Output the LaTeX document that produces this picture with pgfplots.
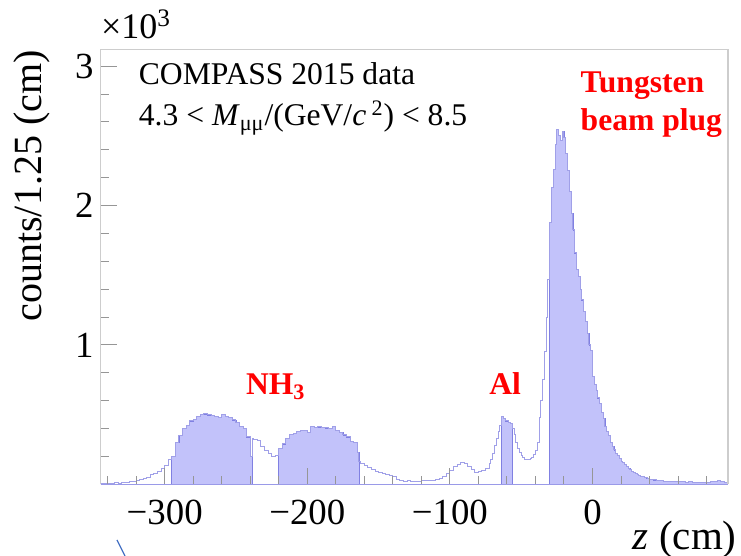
\documentclass[border=0pt]{standalone}
\usepackage{fontspec}
\setmainfont{Liberation Serif}
\usepackage{pgfplots}
\usepackage{pgfplotstable}
\pgfplotsset{compat=1.18}
\definecolor{histline}{RGB}{160,160,232}
\definecolor{histfill}{RGB}{194,194,250}
\definecolor{fillline}{RGB}{128,128,226}
\definecolor{framegray}{RGB}{205,205,205}
\definecolor{tickgray}{RGB}{150,150,150}
\definecolor{stray}{RGB}{70,114,196}

\pgfplotstableread{
z c
-345 5
-342.5 3
-340 8
-337.5 6
-335 10
-332.5 9
-330 14
-327.5 12
-325 18
-322.5 22
-320 27
-317.5 34
-315 42
-312.5 50
-310 68
-307.5 80
-305 95
-302.5 112
-300 135
-297.5 175
-295 200
-292.5 300
-290 350
-287.5 400
-285 425
-282.5 455
-280 465
-277.5 490
-275 500
-272.5 505
-270 498
-267.5 492
-265 485
-262.5 478
-260 502
-257.5 488
-255 478
-252.5 462
-250 445
-247.5 415
-245 400
-242.5 340
-240 200
-238.75 330
-237.5 325
-235 315
-232.5 270
-230 245
-227.5 225
-225 200
-222.5 210
-220 260
-217.5 290
-215 330
-212.5 358
-210 368
-207.5 378
-205 390
-202.5 385
-200 370
-197.5 415
-195 410
-192.5 412
-190 410
-187.5 405
-185 402
-182.5 414
-180 385
-177.5 370
-175 355
-172.5 340
-170 310
-167.5 300
-165 230
-163.75 165
-162.5 150
-160 135
-157.5 120
-155 105
-152.5 95
-150 88
-147.5 80
-145 74
-142.5 65
-140 55
-137.5 38
-135 28
-132.5 22
-130 25
-127.5 24
-125 22
-122.5 24
-120 25
-117.5 28
-115 27
-112.5 30
-110 35
-107.5 42
-105 55
-102.5 75
-100 100
-97.5 125
-95 140
-92.5 155
-90 150
-87.5 125
-85 105
-82.5 88
-80 90
-77.5 100
-75 115
-72.5 150
-71.25 175
-70 220
-68.75 280
-67.5 330
-66.25 380
-65 420
-63.75 485
-62.5 470
-61.25 455
-60 460
-58.75 445
-57.5 440
-56.25 400
-55 360
-53.75 300
-52.5 260
-51.25 230
-50 210
-48.75 195
-47.5 182
-46.25 176
-45 178
-43.75 185
-42.5 195
-41.25 215
-40 240
-38.75 300
-37.5 480
-36.25 600
-35 750
-33.75 950
-32.5 1200
-31.25 1470
-30 1880
-28.75 2130
-27.5 2260
-26.25 2440
-25 2545
-23.75 2500
-22.5 2470
-21.25 2530
-20 2490
-18.75 2375
-17.5 2255
-16.25 2100
-15 1945
-13.75 1825
-12.5 1660
-11.25 1540
-10 1490
-8.75 1400
-7.5 1323
-6.25 1240
-5 1167
-3.75 1084
-2.5 1000
-1.25 964
0 773
1.25 720
2.5 677
3.75 620
5 582
6.25 517
7.5 470
8.75 414
10 380
11.25 350
12.5 300
13.75 270
15 247
16.25 225
17.5 205
18.75 185
20 165
21.25 155
22.5 140
23.75 128
25 115
26.25 105
27.5 95
28.75 88
30 80
31.25 72
32.5 66
33.75 60
35 55
36.25 50
37.5 46
38.75 42
40 38
41.25 35
42.5 32
45 29
47.5 27
50 24
52.5 22
55 20
57.5 19
60 18
62.5 20
65 17
67.5 19
70 16
72.5 17
75 15
77.5 16
80 17
82.5 19
85 18
87.5 27
90 20
92.5 12
95 12
}\outline

\pgfplotstableread{
z c
-295 200
-292.5 300
-290 350
-287.5 400
-285 425
-282.5 455
-280 465
-277.5 490
-275 500
-272.5 505
-270 498
-267.5 492
-265 485
-262.5 478
-260 502
-257.5 488
-255 478
-252.5 462
-250 445
-247.5 415
-245 400
-242.5 340
-240 200
-238.75 200
}\cellA

\pgfplotstableread{
z c
-220 260
-217.5 290
-215 330
-212.5 358
-210 368
-207.5 378
-205 390
-202.5 385
-200 370
-197.5 415
-195 410
-192.5 412
-190 410
-187.5 405
-185 402
-182.5 414
-180 385
-177.5 370
-175 355
-172.5 340
-170 310
-167.5 300
-165 230
-163.75 230
}\cellB

\pgfplotstableread{
z c
-63.75 485
-62.5 470
-61.25 455
-60 460
-58.75 445
-57.5 440
-56.25 440
}\alu

\pgfplotstableread{
z c
-30 1880
-28.75 2130
-27.5 2260
-26.25 2440
-25 2545
-23.75 2500
-22.5 2470
-21.25 2530
-20 2490
-18.75 2375
-17.5 2255
-16.25 2100
-15 1945
-13.75 1825
-12.5 1660
-11.25 1540
-10 1490
-8.75 1400
-7.5 1323
-6.25 1240
-5 1167
-3.75 1084
-2.5 1000
-1.25 964
0 773
1.25 720
2.5 677
3.75 620
5 582
6.25 517
7.5 470
8.75 414
10 380
11.25 350
12.5 300
13.75 270
15 247
16.25 225
17.5 205
18.75 185
20 165
21.25 155
22.5 140
23.75 128
25 115
26.25 105
27.5 95
28.75 88
30 80
31.25 72
32.5 66
33.75 60
35 55
36.25 50
37.5 46
38.75 42
40 38
41.25 35
42.5 32
45 29
47.5 27
50 24
52.5 22
55 20
57.5 19
60 18
62.5 20
65 17
67.5 19
70 16
72.5 17
75 15
77.5 16
80 17
82.5 19
85 18
87.5 27
90 20
92.5 12
95 12
}\plug

\begin{document}
\begin{tikzpicture}
\useasboundingbox (0,0) rectangle (370.5pt,278pt);
\begin{axis}[
  at={(50.25pt,35.8pt)}, anchor=south west,
  scale only axis, width=313.75pt, height=217.4pt,
  xmin=-345, xmax=95, ymin=0, ymax=3119,
  enlargelimits=false,
  axis on top,
  axis line style={draw=none},
  tick pos=left,
  tick align=inside,
  xtick={-300,-200,-100,0},
  xticklabels={−300,−200,−100,0},
  ytick={1000,2000,3000},
  yticklabels={1,2,3},
  minor xtick={-340,-320,-280,-260,-240,-220,-180,-160,-140,-120,-80,-60,-40,-20,20,40,60,80},
  minor ytick={200,400,600,800,1200,1400,1600,1800,2200,2400,2600,2800},
  major tick length=8pt, minor tick length=4pt,
  tick style={draw=tickgray, line width=0.5pt},
  ticklabel style={font=\fontsize{18.4}{20}\selectfont},
  xticklabel style={yshift=-4.5pt},
  scaled ticks=false,
]
\addplot[const plot, fill=histfill, draw=fillline, line width=0.4pt] table[x=z,y=c] {\cellA} \closedcycle;
\addplot[const plot, fill=histfill, draw=fillline, line width=0.4pt] table[x=z,y=c] {\cellB} \closedcycle;
\addplot[const plot, fill=histfill, draw=fillline, line width=0.4pt] table[x=z,y=c] {\alu} \closedcycle;
\addplot[const plot, fill=histfill, draw=fillline, line width=0.4pt] table[x=z,y=c] {\plug} \closedcycle;
\addplot[const plot, draw=histline, line width=0.5pt] table[x=z,y=c] {\outline};
\end{axis}
% frame
\draw[framegray, line width=0.6pt] (50.25pt,35.8pt) -- (50.25pt,253.2pt) -- (364pt,253.2pt) -- (364pt,35.8pt);
\draw[fillline!80, line width=0.6pt] (50.25pt,35.8pt) -- (364pt,35.8pt);
% texts
\node[anchor=base west, inner sep=0pt, font=\fontsize{15.8}{18}\selectfont] at (69.25pt,235.5pt) {COMPASS 2015 data};
\node[anchor=base west, inner sep=0pt, font=\fontsize{15.8}{18}\selectfont] at (69.25pt,215pt) {4.3 < \textit{M}\textsubscript{μμ}/(GeV/\textit{c}\,\textsuperscript{2}) < 8.5};
\node[anchor=base west, inner sep=0pt, text=red, font=\bfseries\fontsize{15.8}{18}\selectfont] at (290.15pt,231.5pt) {Tungsten};
\node[anchor=base west, inner sep=0pt, text=red, font=\bfseries\fontsize{15.8}{18}\selectfont] at (290.15pt,212.5pt) {beam plug};
\node[anchor=base west, inner sep=0pt, text=red, font=\bfseries\fontsize{15.8}{18}\selectfont] at (122.85pt,80.5pt) {NH\textsubscript{3}};
\node[anchor=base west, inner sep=0pt, text=red, font=\bfseries\fontsize{15.8}{18}\selectfont] at (244.5pt,80.5pt) {Al};
\node[anchor=base west, inner sep=0pt, font=\fontsize{18}{20}\selectfont] at (50.35pt,258.5pt) {×10\textsuperscript{3}};
\node[anchor=east, rotate=90, inner sep=0pt, font=\fontsize{20}{22}\selectfont] at (16pt,253pt) {counts/1.25 (cm)};
\node[anchor=base east, inner sep=0pt, font=\fontsize{20.5}{22}\selectfont] at (368.5pt,3pt) {\textit{z} (cm)};
\draw[stray, line width=0.6pt] (58.5pt,8pt) -- (62.5pt,0pt);
\end{tikzpicture}
\end{document}
